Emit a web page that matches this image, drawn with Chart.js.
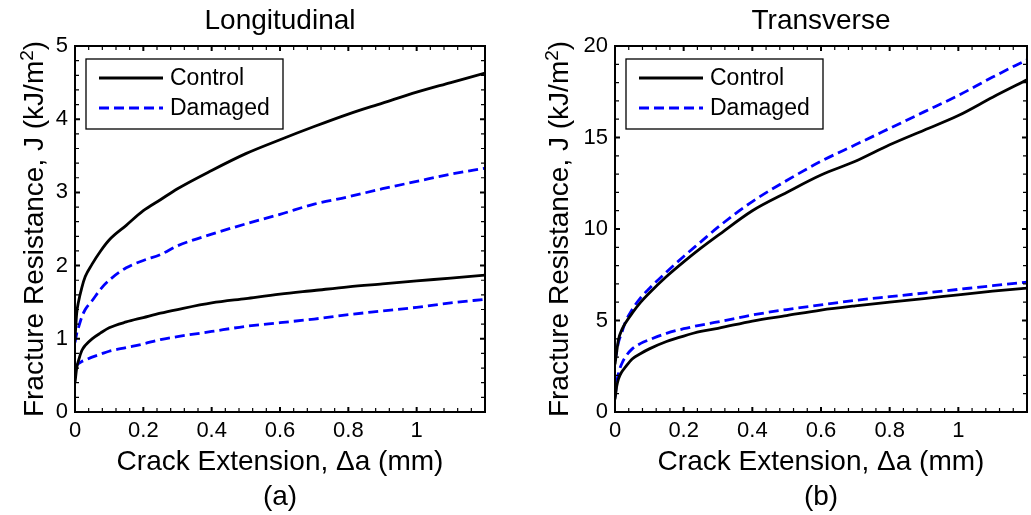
<!DOCTYPE html>
<html>
<head>
<meta charset="utf-8">
<title>Fracture resistance curves</title>
<script src="https://cdn.jsdelivr.net/npm/chart.js@4.4.1/dist/chart.umd.min.js"></script>
<style>
  html, body { margin: 0; padding: 0; background: #fff; }
  #wrap { position: relative; width: 1031px; height: 515px; overflow: hidden; }
  .panel { position: absolute; top: 0; height: 515px; }
  #panelA { left: 0; width: 515px; }
  #panelB { left: 540px; width: 491px; }
</style>
</head>
<body>
<div id="wrap">
  <div class="panel" id="panelA"><canvas id="chartA"></canvas></div>
  <div class="panel" id="panelB"><canvas id="chartB"></canvas></div>
</div>
<script>
// crack extension (mm), shared by every curve
var crackExt = [0, 0.005, 0.01, 0.02, 0.03, 0.05, 0.075, 0.1, 0.15, 0.2, 0.25, 0.3,
                0.4, 0.5, 0.6, 0.7, 0.8, 0.9, 1.0, 1.1, 1.2];

// (a) Longitudinal, J in kJ/m^2
var longControlHigh = [1.0, 1.35, 1.5, 1.7, 1.85, 2.02, 2.2, 2.35, 2.55, 2.75, 2.9, 3.05,
                       3.3, 3.53, 3.72, 3.9, 4.07, 4.22, 4.37, 4.5, 4.63];
var longDamagedHigh = [0.95, 1.07, 1.15, 1.3, 1.4, 1.52, 1.68, 1.8, 1.97, 2.07, 2.15, 2.27,
                       2.43, 2.57, 2.7, 2.84, 2.94, 3.05, 3.15, 3.25, 3.33];
var longControlLow  = [0.4, 0.6, 0.7, 0.84, 0.91, 1.0, 1.08, 1.15, 1.23, 1.29, 1.35, 1.4,
                       1.49, 1.55, 1.61, 1.66, 1.71, 1.75, 1.79, 1.83, 1.87];
var longDamagedLow  = [0.62, 0.64, 0.66, 0.69, 0.71, 0.75, 0.79, 0.83, 0.88, 0.93, 0.99, 1.03,
                       1.1, 1.17, 1.22, 1.27, 1.33, 1.38, 1.43, 1.49, 1.54];

// (b) Transverse, J in kJ/m^2
var transControlHigh = [2.6, 3.3, 3.95, 4.5, 4.85, 5.4, 6.0, 6.5, 7.4, 8.2, 8.95, 9.65,
                        11.0, 12.0, 12.95, 13.7, 14.6, 15.4, 16.2, 17.2, 18.15];
var transDamagedHigh = [2.8, 3.3, 3.8, 4.35, 4.9, 5.6, 6.25, 6.75, 7.65, 8.5, 9.3, 10.1,
                        11.5, 12.65, 13.7, 14.6, 15.5, 16.4, 17.3, 18.3, 19.25];
var transControlLow  = [0.7, 1.4, 1.8, 2.2, 2.45, 2.9, 3.2, 3.45, 3.85, 4.15, 4.4, 4.57,
                        4.97, 5.27, 5.57, 5.8, 6.0, 6.2, 6.4, 6.6, 6.77];
var transDamagedLow  = [0.8, 1.6, 2.1, 2.65, 3.0, 3.45, 3.75, 3.95, 4.3, 4.55, 4.75, 4.92,
                        5.3, 5.6, 5.85, 6.1, 6.3, 6.5, 6.7, 6.9, 7.1];

// tick labels
var xTickVals = [0, 0.2, 0.4, 0.6, 0.8, 1];
var longTickVals = [0, 1, 2, 3, 4, 5];
var transTickVals = [0, 5, 10, 15, 20];

var FONT = '"Liberation Sans", Arial, Helvetica, sans-serif';
Chart.defaults.font.family = FONT;
Chart.defaults.color = '#000';

function toPoints(ys) {
    return ys.map(function(y, i) { return { x: crackExt[i], y: y }; });
}

function series(label, ys) {
    var damaged = label === 'Damaged';
    return {
        label: label,
        data: toPoints(ys),
        borderColor: damaged ? '#0000ff' : '#000000',
        borderWidth: 2.8,
        borderDash: damaged ? [10, 5] : [],
        pointRadius: 0,
        fill: false,
        cubicInterpolationMode: 'monotone'
    };
}

// box, inward ticks on all four sides, panel title, y title and legend
var matlabFrame = {
    id: 'matlabFrame',
    afterDraw: function(chart, args, opts) {
        var ctx = chart.ctx;
        var a = chart.chartArea;
        var xs = chart.scales.x, ys = chart.scales.y;
        var i, n, v, p, major;

        ctx.save();
        ctx.strokeStyle = '#000';
        ctx.setLineDash([]);

        // x ticks, bottom and top
        n = Math.round(xs.max / opts.xMinor);
        for (i = 0; i <= n; i++) {
            v = i * opts.xMinor;
            p = xs.getPixelForValue(v);
            major = Math.abs(v / 0.2 - Math.round(v / 0.2)) < 1e-6;
            ctx.lineWidth = major ? 2 : 1.2;
            var len = major ? 5 : 4;
            ctx.beginPath();
            ctx.moveTo(p, a.bottom); ctx.lineTo(p, a.bottom - len);
            ctx.moveTo(p, a.top); ctx.lineTo(p, a.top + len);
            ctx.stroke();
        }

        // y ticks, left and right
        n = Math.round(ys.max / opts.yMinor);
        for (i = 0; i <= n; i++) {
            v = i * opts.yMinor;
            p = ys.getPixelForValue(v);
            major = Math.abs(v / opts.yMajor - Math.round(v / opts.yMajor)) < 1e-6;
            ctx.lineWidth = major ? 2 : 1.2;
            var ylen = major ? 5 : 4;
            ctx.beginPath();
            ctx.moveTo(a.left, p); ctx.lineTo(a.left + ylen, p);
            ctx.moveTo(a.right, p); ctx.lineTo(a.right - ylen, p);
            ctx.stroke();
        }

        // axes box
        ctx.lineWidth = 2;
        ctx.strokeRect(a.left, a.top, a.right - a.left, a.bottom - a.top);

        // panel title
        ctx.fillStyle = '#000';
        ctx.font = '28px ' + FONT;
        ctx.textAlign = 'center';
        ctx.textBaseline = 'middle';
        ctx.fillText(opts.title, (a.left + a.right) / 2, 21);

        // y axis title with superscript 2
        var main = 'Fracture Resistance, J (kJ/m', sup = '2', tail = ')';
        ctx.font = '28px ' + FONT;
        var wMain = ctx.measureText(main).width, wTail = ctx.measureText(tail).width;
        ctx.font = '19px ' + FONT;
        var wSup = ctx.measureText(sup).width;
        var total = wMain + wSup + wTail;
        ctx.translate(opts.yTitleX, (a.top + a.bottom) / 2);
        ctx.rotate(-Math.PI / 2);
        ctx.textAlign = 'left';
        ctx.textBaseline = 'alphabetic';
        var sx = -total / 2;
        ctx.font = '28px ' + FONT;
        ctx.fillText(main, sx, 10);
        ctx.font = '19px ' + FONT;
        ctx.fillText(sup, sx + wMain, 0);
        ctx.font = '28px ' + FONT;
        ctx.fillText(tail, sx + wMain + wSup, 10);
        ctx.setTransform(1, 0, 0, 1, 0, 0);
        ctx.restore();

        // legend
        ctx.save();
        var bx = a.left + 11, by = a.top + 13;
        ctx.fillStyle = '#fff';
        ctx.fillRect(bx, by, 197, 70);
        ctx.lineWidth = 1.3;
        ctx.strokeStyle = '#000';
        ctx.strokeRect(bx, by, 197, 70);
        var seen = {};
        var row = 0;
        chart.data.datasets.forEach(function(ds) {
            if (seen[ds.label]) return;
            seen[ds.label] = true;
            var yy = a.top + 32 + row * 30;
            ctx.strokeStyle = ds.borderColor;
            ctx.lineWidth = ds.borderWidth;
            ctx.setLineDash(ds.borderDash);
            ctx.beginPath();
            ctx.moveTo(a.left + 24, yy);
            ctx.lineTo(a.left + 88, yy);
            ctx.stroke();
            ctx.setLineDash([]);
            ctx.fillStyle = '#000';
            ctx.font = '23px ' + FONT;
            ctx.textAlign = 'left';
            ctx.textBaseline = 'middle';
            ctx.fillText(ds.label, a.left + 95, yy + 1);
            row++;
        });
        ctx.restore();
    }
};

function makeChart(canvasId, opts) {
    return new Chart(document.getElementById(canvasId), {
        type: 'line',
        data: { datasets: opts.datasets },
        plugins: [matlabFrame],
        options: {
            responsive: true,
            maintainAspectRatio: false,
            animation: false,
            layout: { padding: { top: 46, right: opts.padRight, bottom: 0, left: 0 } },
            plugins: {
                legend: { display: false },
                tooltip: { enabled: false },
                matlabFrame: {
                    title: opts.title,
                    yTitleX: opts.yTitleX,
                    xMinor: 0.04,
                    yMinor: opts.yMinor,
                    yMajor: opts.yMajor
                }
            },
            scales: {
                x: {
                    type: 'linear',
                    min: 0,
                    max: 1.2,
                    grid: { display: false, drawTicks: false },
                    border: { display: false },
                    afterBuildTicks: function(s) {
                        s.ticks = xTickVals.map(function(v) { return { value: v }; });
                    },
                    ticks: {
                        padding: 6,
                        autoSkip: false,
                        maxRotation: 0,
                        font: { size: 22 },
                        callback: function(v) { return String(v); }
                    },
                    title: {
                        display: true,
                        text: ['Crack Extension, \u0394a (mm)', opts.tag],
                        font: { size: 28, lineHeight: 1.25 },
                        padding: { top: 0, bottom: 0 }
                    },
                    afterFit: function(s) { s.height = 103; }
                },
                y: {
                    type: 'linear',
                    min: 0,
                    max: opts.yMax,
                    grid: { display: false, drawTicks: false },
                    border: { display: false },
                    afterBuildTicks: function(s) {
                        s.ticks = opts.yTicks.map(function(v) { return { value: v }; });
                    },
                    ticks: {
                        padding: 7,
                        autoSkip: false,
                        font: { size: 22 },
                        callback: function(v) { return String(v); }
                    },
                    afterFit: function(s) { s.width = 75; }
                }
            }
        }
    });
}

makeChart('chartA', {
    title: 'Longitudinal',
    tag: '(a)',
    yMax: 5,
    yTicks: longTickVals,
    yMinor: 0.2,
    yMajor: 1,
    yTitleX: 33,
    padRight: 30,
    datasets: [
        series('Control', longControlHigh),
        series('Damaged', longDamagedHigh),
        series('Control', longControlLow),
        series('Damaged', longDamagedLow)
    ]
});

makeChart('chartB', {
    title: 'Transverse',
    tag: '(b)',
    yMax: 20,
    yTicks: transTickVals,
    yMinor: 1,
    yMajor: 5,
    yTitleX: 18,
    padRight: 4,
    datasets: [
        series('Control', transControlHigh),
        series('Damaged', transDamagedHigh),
        series('Control', transControlLow),
        series('Damaged', transDamagedLow)
    ]
});
</script>
</body>
</html>
